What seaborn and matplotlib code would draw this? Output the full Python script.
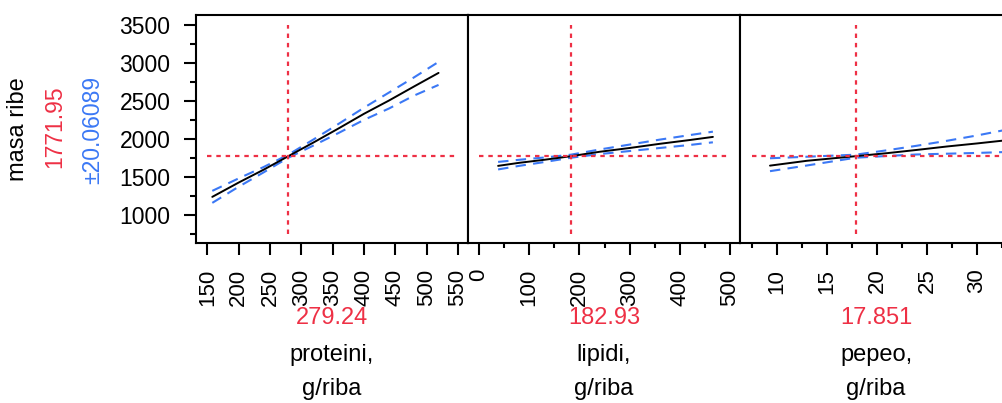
import matplotlib
matplotlib.use("Agg")
import matplotlib.pyplot as plt
import seaborn as sns
import pandas as pd

# valores (perfil de predição)
resp_name = "masa ribe"
resp_value = 1771.95
resp_ci = "±20.06089"

prot_x = [158, 200, 240, 279.24, 320, 360, 400, 440, 480, 519]
prot_pred = [1237, 1425, 1595, 1772, 1955, 2140, 2330, 2505, 2690, 2868]
prot_upper = [1316, 1480, 1630, 1792, 1995, 2200, 2410, 2610, 2810, 3013]
prot_lower = [1158, 1370, 1560, 1752, 1915, 2080, 2250, 2400, 2570, 2710]

lip_x = [38, 80, 130, 182.93, 240, 300, 360, 420, 466]
lip_pred = [1645, 1685, 1725, 1772, 1830, 1880, 1935, 1985, 2026]
lip_upper = [1697, 1725, 1755, 1792, 1860, 1925, 1990, 2050, 2095]
lip_lower = [1598, 1645, 1695, 1752, 1800, 1840, 1880, 1920, 1955]

pep_x = [9.3, 13, 17.851, 21, 24, 27, 30, 33.5]
pep_pred = [1648, 1712, 1772, 1812, 1855, 1900, 1940, 1990]
pep_upper = [1745, 1765, 1792, 1850, 1910, 1975, 2045, 2135]
pep_lower = [1575, 1650, 1752, 1775, 1795, 1805, 1815, 1830]

factor_names = ["proteini,", "lipidi,", "pepeo,"]
factor_units = ["g/riba", "g/riba", "g/riba"]
factor_values = ["279.24", "182.93", "17.851"]
factor_current = [279.24, 182.93, 17.851]

prot_ticks = [150, 200, 250, 300, 350, 400, 450, 500, 550]
lip_ticks = [0, 100, 200, 300, 400, 500]
lip_minor = [50, 150, 250, 350, 450]
pep_ticks = [10, 15, 20, 25, 30]
pep_minor = [7.5, 12.5, 17.5, 22.5, 27.5, 32.5]
y_ticks = [1000, 1500, 2000, 2500, 3000, 3500]
y_minor = [750, 1250, 1750, 2250, 2750, 3250]

RED = "#EE3045"
BLUE = "#3B78F5"

sns.set_theme(style="white")
plt.rcParams["font.family"] = ["Liberation Sans", "DejaVu Sans"]
plt.rcParams["axes.linewidth"] = 1.5
plt.rcParams["text.color"] = "black"
plt.rcParams["xtick.color"] = "black"
plt.rcParams["ytick.color"] = "black"
plt.rcParams["xtick.labelcolor"] = "black"
plt.rcParams["ytick.labelcolor"] = "black"

fig = plt.figure(figsize=(10.02, 4.03), dpi=100)
W, H = 1002, 403
AX_BOTTOM, AX_H = 243, 228   # em pixels, a partir do topo

panels = [
    (prot_x, prot_pred, prot_upper, prot_lower, prot_ticks, [], (132, 566)),
    (lip_x, lip_pred, lip_upper, lip_lower, lip_ticks, lip_minor, (-22, 520)),
    (pep_x, pep_pred, pep_upper, pep_lower, pep_ticks, pep_minor, (6.3, 33.5)),
]

for i, (xs, pred, up, lo, ticks, minor, xlim) in enumerate(panels):
    ax = fig.add_axes([(196 + 272 * i) / W, (H - AX_BOTTOM) / H, 272 / W, AX_H / H])
    df = pd.DataFrame({"x": xs, "pred": pred, "up": up, "lo": lo})
    sns.lineplot(data=df, x="x", y="up", ax=ax, color=BLUE, lw=1.5,
                 linestyle=(0, (5, 3.5)))
    sns.lineplot(data=df, x="x", y="lo", ax=ax, color=BLUE, lw=1.5,
                 linestyle=(0, (5, 3.5)))
    sns.lineplot(data=df, x="x", y="pred", ax=ax, color="black", lw=1.4)

    # linhas de referência (valor atual)
    xr = sorted(ticks + minor)
    ax.hlines(resp_value, xr[0], xr[-1], color=RED, lw=1.6, linestyle=(0, (2, 2.2)))
    ax.vlines(factor_current[i], y_minor[0], y_ticks[-1], color=RED, lw=1.6,
              linestyle=(0, (2, 2.2)))

    ax.set_xlim(*xlim)
    ax.set_ylim(630, 3630)
    ax.set_xticks(ticks)
    ax.set_xticklabels([str(t) for t in ticks], rotation=90, fontsize=16)
    ax.set_xticks(minor, minor=True)
    ax.tick_params(axis="x", which="major", direction="out", length=8.5, width=1.5,
                   pad=10, bottom=True, colors="black")
    ax.tick_params(axis="x", which="minor", direction="out", length=3.5, width=1.5,
                   bottom=True, colors="black")
    for s in ax.spines.values():
        s.set_color("black")
        s.set_linewidth(1.5)

    if i == 0:
        ax.set_yticks(y_ticks)
        ax.set_yticklabels([str(t) for t in y_ticks], fontsize=16.5)
        ax.set_yticks(y_minor, minor=True)
        ax.tick_params(axis="y", which="major", direction="out", length=8.5, width=1.5,
                       pad=10, left=True, colors="black")
        ax.tick_params(axis="y", which="minor", direction="out", length=4, width=1.5,
                       left=True, colors="black")
    else:
        ax.set_yticks([])
        ax.set_yticks([], minor=True)

    ax.set_xlabel("")
    ax.set_ylabel("")
    for txt, ypx, col in [(factor_values[i], 318.5, RED),
                          (factor_names[i], 355, "black"),
                          (factor_units[i], 389, "black")]:
        ax.text(0.5, (AX_BOTTOM - ypx) / AX_H, txt, transform=ax.transAxes,
                ha="center", va="center", color=col, fontsize=17)

# rótulos da resposta à esquerda
fig.text(18 / W, 1 - 129 / H, resp_name, rotation=90, ha="center", va="center",
         fontsize=17, color="black")
fig.text(55 / W, 1 - 127 / H, f"{resp_value:.2f}", rotation=90, ha="center",
         va="center", fontsize=16.5, color=RED)
fig.text(93 / W, 1 - 130 / H, resp_ci, rotation=90, ha="center", va="center",
         fontsize=16.5, color=BLUE)

fig.savefig("out.png", dpi=100)
